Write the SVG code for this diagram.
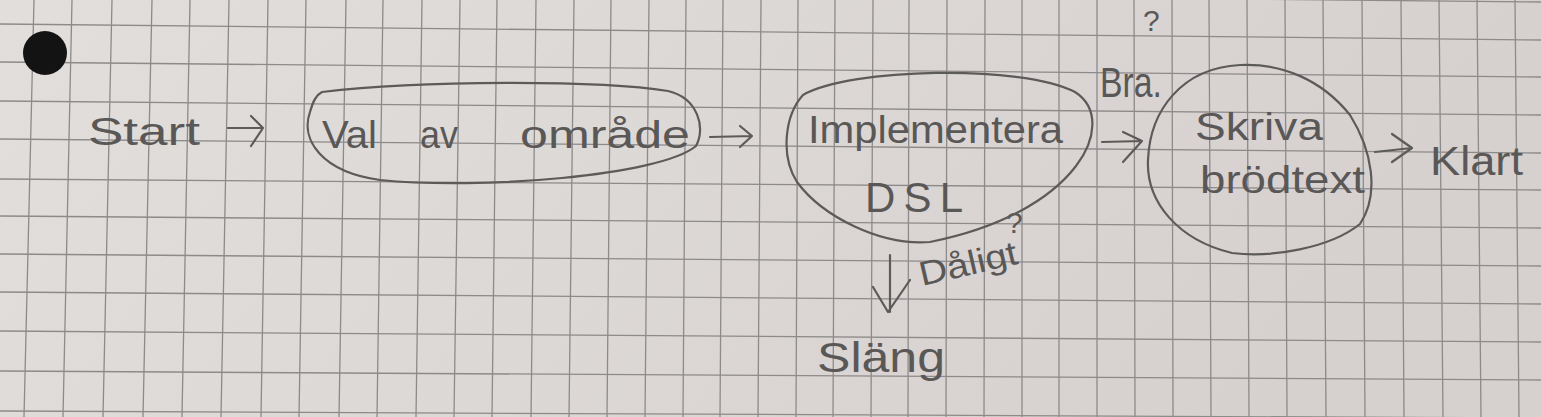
<svg xmlns="http://www.w3.org/2000/svg" width="1541" height="417" viewBox="0 0 1541 417">
  <defs>
    <linearGradient id="paper" x1="0" y1="0" x2="1" y2="0.2">
      <stop offset="0" stop-color="#e1dedc"/>
      <stop offset="0.5" stop-color="#dcd8d6"/>
      <stop offset="1" stop-color="#d6d0cf"/>
    </linearGradient>
    <style>
      .grid { fill: none; stroke: #8d8a8a; stroke-width: 1.3; }
      .pencil { fill: none; stroke: #5d5a5a; stroke-width: 2.2; stroke-linecap: round; stroke-linejoin: round; }
      .hand { font-family: "Liberation Sans", "DejaVu Sans", sans-serif; fill: #5a5757; }
      .big { font-size: 38px; }
      .small { font-size: 30px; }
    </style>
  </defs>

  <!-- paper -->
  <rect x="0" y="0" width="1541" height="417" fill="url(#paper)"/>
  <g id="grid" class="grid">
    <path d="M34 0 L24 417 M72 0 L63 417 M112 0 L103 417 M152 0 L143 417 M190 0 L182 417 M229 0 L221 417 M268 0 L261 417 M306 0 L299 417 M346 0 L339 417 M383 0 L377 417"/>
    <path d="M422 0 L416 417 M460 0 L454 417 M497 0 L492 417 M536 0 L531 417 M574 0 L569 417 M611 0 L607 417 M649 0 L645 417 M686 0 L683 417 M723 0 L720 417 M761 0 L758 417"/>
    <path d="M798 0 L796 417 M835 0 L833 417 M873 0 L871 417 M909 0 L908 417 M947 0 L946 417 M985 0 L984 417 M1022 0 L1022 417 M1059 0 L1059 417 M1097 0 L1097 417 M1134 0 L1135 417"/>
    <path d="M1172 0 L1173 417 M1209 0 L1211 417 M1247 0 L1249 417 M1285 0 L1287 417 M1323 0 L1326 417 M1362 0 L1365 417 M1401 0 L1404 417 M1439 0 L1443 417 M1477 0 L1481 417 M1515 0 L1519 417"/>
    <path d="M0 -13 L1541 2 M0 24 L1541 40 M0 62 L1541 77 M0 101 L1541 115 M0 139 L1541 153 M0 179 L1541 190 M0 216 L1541 228 M0 254 L1541 266 M0 292 L1541 304 M0 331 L1541 342 M0 371 L1541 380 M0 411 L1541 418"/>
  </g>
  <!-- punched hole -->
  <circle cx="45" cy="53" r="22" fill="#141313"/>

  <!-- connectors -->
  <g id="connectors">
    <path class="pencil" d="M228 128 L263 128 M251 116 L263 128 L251 146"/>
    <path class="pencil" d="M710 137 L752 136 M740 126 L752 136 L740 147"/>
    <path class="pencil" d="M1102 142 L1142 141 M1123 132 L1142 141 L1123 162"/>
    <path class="pencil" d="M1375 152 L1412 148 M1392 134 L1412 148 L1392 162"/>
    <path class="pencil" d="M890 255 L890 312 M873 287 L888 312 L910 280"/>
    <text class="hand" x="1100" y="97" font-size="42" textLength="62" lengthAdjust="spacingAndGlyphs">Bra.</text>
    <text class="hand small" x="1143" y="31">?</text>
    <text class="hand" x="922" y="286" font-size="34" textLength="100" lengthAdjust="spacingAndGlyphs" transform="rotate(-13 922 286)">Dåligt</text>
    <text class="hand small" x="1006" y="233">?</text>
  </g>

  <!-- nodes -->
  <g id="node-start">
    <text class="hand big" x="88" y="145" textLength="112" lengthAdjust="spacingAndGlyphs">Start</text>
  </g>

  <g id="node-val">
    <path class="pencil" d="M322 92 C420 80 600 80 668 91 C698 98 706 128 696 146 C660 176 480 190 380 180 C322 172 300 140 310 112 C313 101 316 95 322 92 Z"/>
    <text class="hand big" y="148"><tspan x="322" textLength="55" lengthAdjust="spacingAndGlyphs">Val</tspan> <tspan x="420" textLength="38" lengthAdjust="spacingAndGlyphs">av</tspan> <tspan x="520" textLength="170" lengthAdjust="spacingAndGlyphs">område</tspan></text>
  </g>

  <g id="node-impl">
    <path class="pencil" d="M803 95 C850 68 1020 64 1075 92 C1100 108 1096 140 1076 166 C1050 200 1000 228 930 242 C880 246 822 216 797 182 C780 155 785 115 803 95 Z"/>
    <text class="hand big" x="808" y="143" textLength="255" lengthAdjust="spacingAndGlyphs">Implementera</text>
    <text class="hand" x="865" y="212" font-size="42" textLength="98" lengthAdjust="spacing">DSL</text>
  </g>

  <g id="node-skriva">
    <path class="pencil" d="M1240 65 C1182 68 1150 110 1148 160 C1146 202 1178 240 1232 253 C1272 258 1330 248 1360 224 C1380 194 1372 150 1350 115 C1322 80 1282 63 1240 65 Z"/>
    <text class="hand big" x="1195" y="140" textLength="128" lengthAdjust="spacingAndGlyphs">Skriva</text>
    <text class="hand big" x="1200" y="193" textLength="165" lengthAdjust="spacingAndGlyphs">brödtext</text>
  </g>

  <g id="node-klart">
    <text class="hand" x="1430" y="175" font-size="40" textLength="93" lengthAdjust="spacingAndGlyphs">Klart</text>
  </g>

  <g id="node-slang">
    <text class="hand" x="817" y="372" font-size="42" textLength="128" lengthAdjust="spacingAndGlyphs">Släng</text>
  </g>
</svg>
